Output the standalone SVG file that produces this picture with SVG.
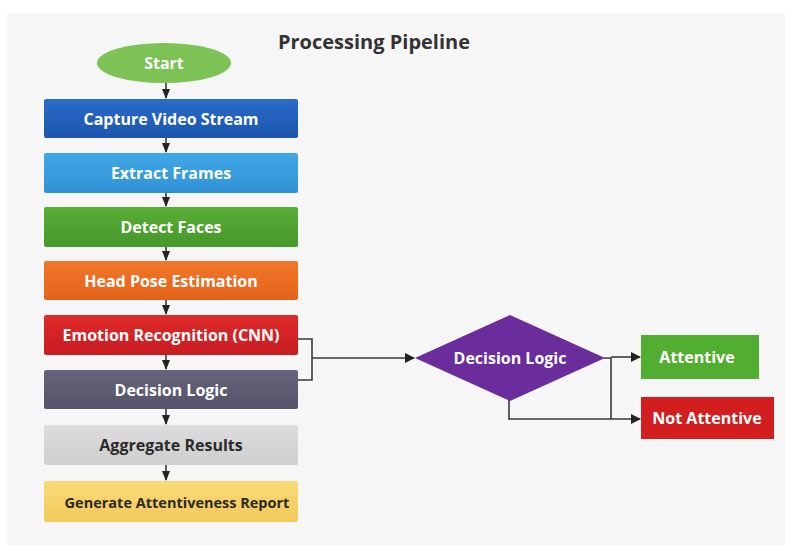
<svg xmlns="http://www.w3.org/2000/svg" width="785" height="545" viewBox="0 0 785 545">
<defs>
<style>
.lbl{font-family:"Open Sans","Liberation Sans",sans-serif;font-weight:700;font-size:16px;text-anchor:middle;dominant-baseline:central;fill:#ffffff}
.dark{fill:#2a2a2a}
.title{font-family:"Open Sans","Liberation Sans",sans-serif;font-weight:700;font-size:20px;text-anchor:middle;fill:#333333}
.conn{fill:none;stroke:#3a3a3a;stroke-width:1.6}
.box{stroke:none}
</style>
<marker id="ah" markerWidth="10" markerHeight="10" refX="9" refY="5" orient="auto" markerUnits="userSpaceOnUse">
<path d="M0,0 L10,5 L0,10 Z" fill="#222222"/>
</marker>
<marker id="ahs" markerWidth="10" markerHeight="8" refX="9" refY="4" orient="auto" markerUnits="userSpaceOnUse">
<path d="M0,0 L10,4 L0,8 Z" fill="#222222"/>
</marker>
<linearGradient id="gBlue" x1="0" y1="0" x2="0" y2="1"><stop offset="0" stop-color="#2a6cc9"/><stop offset="1" stop-color="#1b54ad"/></linearGradient>
<linearGradient id="gSky" x1="0" y1="0" x2="0" y2="1"><stop offset="0" stop-color="#41a7e6"/><stop offset="1" stop-color="#2f92d6"/></linearGradient>
<linearGradient id="gGreen" x1="0" y1="0" x2="0" y2="1"><stop offset="0" stop-color="#58ad35"/><stop offset="1" stop-color="#46982a"/></linearGradient>
<linearGradient id="gOrange" x1="0" y1="0" x2="0" y2="1"><stop offset="0" stop-color="#f2772a"/><stop offset="1" stop-color="#e4631a"/></linearGradient>
<linearGradient id="gRed" x1="0" y1="0" x2="0" y2="1"><stop offset="0" stop-color="#de2a2a"/><stop offset="1" stop-color="#c81c22"/></linearGradient>
<linearGradient id="gSlate" x1="0" y1="0" x2="0" y2="1"><stop offset="0" stop-color="#66647a"/><stop offset="1" stop-color="#55536a"/></linearGradient>
<linearGradient id="gGray" x1="0" y1="0" x2="0" y2="1"><stop offset="0" stop-color="#dcdcdc"/><stop offset="1" stop-color="#cfcfcf"/></linearGradient>
<linearGradient id="gYellow" x1="0" y1="0" x2="0" y2="1"><stop offset="0" stop-color="#f9da78"/><stop offset="1" stop-color="#f2c95a"/></linearGradient>
</defs>
<rect x="0" y="0" width="785" height="545" fill="#ffffff"/>
<rect x="7" y="14" width="778" height="531" fill="#f6f6f6"/>
<text class="title" x="374" y="49">Processing Pipeline</text>

<g id="connectors">
<line class="conn" x1="166" y1="83" x2="166" y2="98" marker-end="url(#ahs)"/>
<line class="conn" x1="166" y1="138" x2="166" y2="152" marker-end="url(#ahs)"/>
<line class="conn" x1="166" y1="193" x2="166" y2="206" marker-end="url(#ahs)"/>
<line class="conn" x1="166" y1="247" x2="166" y2="260" marker-end="url(#ahs)"/>
<line class="conn" x1="166" y1="300" x2="166" y2="314" marker-end="url(#ahs)"/>
<line class="conn" x1="166" y1="355" x2="166" y2="369" marker-end="url(#ahs)"/>
<line class="conn" x1="166" y1="409" x2="166" y2="424" marker-end="url(#ahs)"/>
<line class="conn" x1="166" y1="465" x2="166" y2="480" marker-end="url(#ahs)"/>
<path class="conn" d="M298,339 H312 V380 H298"/>
<line class="conn" x1="312" y1="358" x2="414" y2="358" marker-end="url(#ah)"/>
<path class="conn" d="M604,358 H611 V419"/>
<line class="conn" x1="611" y1="357" x2="640" y2="357" marker-end="url(#ah)"/>
<path class="conn" d="M509,400 V419 H640" marker-end="url(#ah)"/>
</g>

<g id="start">
<ellipse cx="164" cy="63" rx="67" ry="20" fill="#7cc255"/>
<text class="lbl" x="164" y="63">Start</text>
</g>
<g id="capture">
<rect class="box" x="44" y="99" width="254" height="39" rx="2" fill="url(#gBlue)"/>
<text class="lbl" x="171" y="118.5">Capture Video Stream</text>
</g>
<g id="extract">
<rect class="box" x="44" y="153" width="254" height="40" rx="2" fill="url(#gSky)"/>
<text class="lbl" x="171" y="173">Extract Frames</text>
</g>
<g id="detect">
<rect class="box" x="44" y="207" width="254" height="40" rx="2" fill="url(#gGreen)"/>
<text class="lbl" x="171" y="227">Detect Faces</text>
</g>
<g id="headpose">
<rect class="box" x="44" y="261" width="254" height="39" rx="2" fill="url(#gOrange)"/>
<text class="lbl" x="171" y="280.5">Head Pose Estimation</text>
</g>
<g id="emotion">
<rect class="box" x="44" y="315" width="254" height="40" rx="2" fill="url(#gRed)"/>
<text class="lbl" x="171" y="335">Emotion Recognition (CNN)</text>
</g>
<g id="decision">
<rect class="box" x="44" y="370" width="254" height="39" rx="2" fill="url(#gSlate)"/>
<text class="lbl" x="171" y="389.5">Decision Logic</text>
</g>
<g id="aggregate">
<rect class="box" x="44" y="425" width="254" height="40" rx="2" fill="url(#gGray)"/>
<text class="lbl dark" x="171" y="445">Aggregate Results</text>
</g>
<g id="report">
<rect class="box" x="44" y="481" width="254" height="41" rx="2" fill="url(#gYellow)"/>
<text class="lbl dark" x="177" y="502" style="font-size:14.5px">Generate Attentiveness Report</text>
</g>
<g id="decision-diamond">
<polygon points="415,358 510,315 605,358 510,401" fill="#6b2d9b"/>
<text class="lbl" x="510" y="358">Decision Logic</text>
</g>
<g id="attentive">
<rect class="box" x="641" y="335" width="118" height="44" fill="#52ae30"/>
<text class="lbl" x="697" y="357">Attentive</text>
</g>
<g id="not-attentive">
<rect class="box" x="641" y="397" width="133" height="42" fill="#d21e1f"/>
<text class="lbl" x="707" y="418">Not Attentive</text>
</g>
</svg>
